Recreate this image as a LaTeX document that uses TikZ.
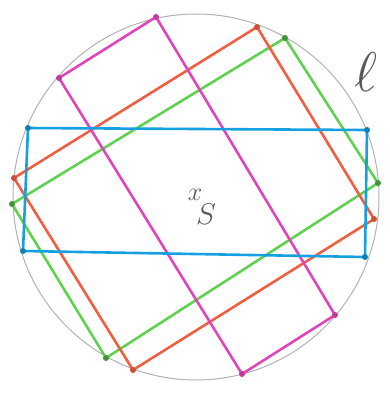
\documentclass[tikz,border=0pt]{standalone}
\usepackage{fix-cm}
\begin{document}
\begin{tikzpicture}[x=1pt,y=-1pt,
  rect/.style={line width=2.6pt, line join=round},
  dotc/.style={circle, fill, inner sep=0pt, minimum size=6pt},
  lbl/.style={text=black!65, inner sep=0pt}]
\definecolor{cblue}{RGB}{20,160,225}
\definecolor{cred}{RGB}{240,95,65}
\definecolor{cgreen}{RGB}{95,210,80}
\definecolor{cmag}{RGB}{225,70,185}
\useasboundingbox (0,0) rectangle (390,394);
\node[draw=black!30, line width=1pt, circle, minimum size=366pt, inner sep=0pt] (circ) at (196,197) {};
% green
\coordinate (g1) at (285,38); \coordinate (g2) at (378,183);
\coordinate (g3) at (106,358); \coordinate (g4) at (12,204);
\draw[rect, cgreen] (g1) -- (g2) -- (g3) -- (g4) -- cycle;
% red
\coordinate (r1) at (257,27); \coordinate (r2) at (374,219);
\coordinate (r3) at (133,370); \coordinate (r4) at (14,178);
\draw[rect, cred] (r1) -- (r2) -- (r3) -- (r4) -- cycle;
% magenta
\coordinate (m1) at (156,17); \coordinate (m2) at (335,315);
\coordinate (m3) at (242,374); \coordinate (m4) at (59,78);
\draw[rect, cmag] (m1) -- (m2) -- (m3) -- (m4) -- cycle;
% blue
\coordinate (b1) at (28,128); \coordinate (b2) at (367,130);
\coordinate (b3) at (365,257); \coordinate (b4) at (23,251);
\draw[rect, cblue] (b1) -- (b2) -- (b3) -- (b4) -- cycle;
\foreach \p in {g1,g2,g3,g4} \node[dotc, fill=cgreen!70!black] at (\p) {};
\foreach \p in {r1,r2,r3,r4} \node[dotc, fill=cred!85!black] at (\p) {};
\foreach \p in {m1,m2,m3,m4} \node[dotc, fill=cmag!85!black] at (\p) {};
\foreach \p in {b1,b2,b3,b4} \node[dotc, fill=cblue!80!black] at (\p) {};
\node[lbl, font=\fontsize{26}{26}\selectfont] (x) at (195,195) {$x$};
\node[lbl, font=\fontsize{30}{30}\selectfont] (s) at (206,214) {$S$};
\node[lbl, font=\fontsize{56}{56}\selectfont] (ell) at (366,72) {$\ell$};
\end{tikzpicture}
\end{document}
